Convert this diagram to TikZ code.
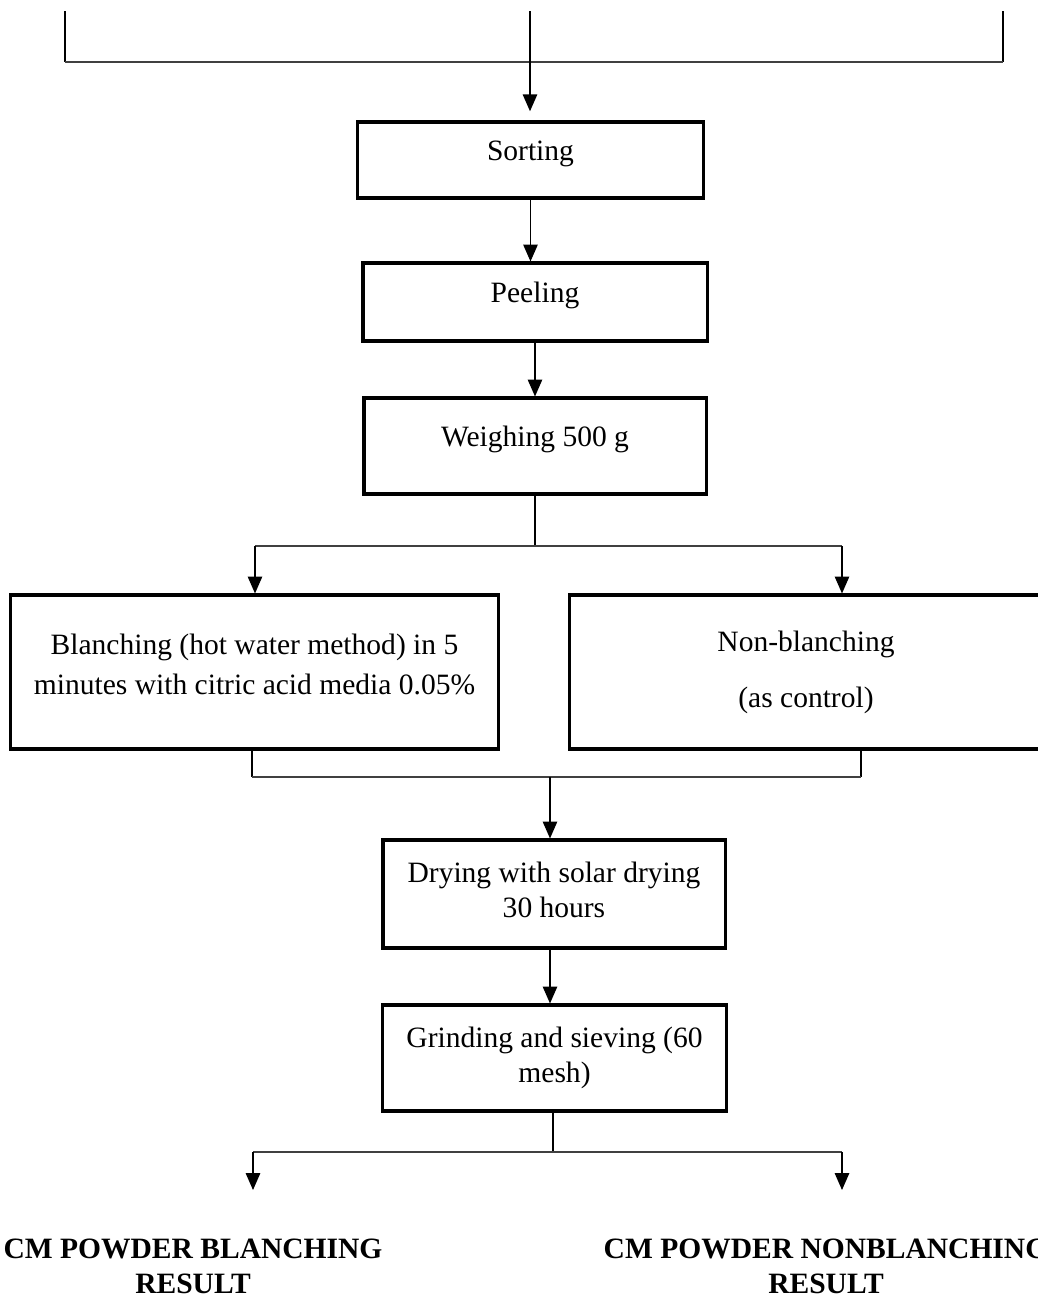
\documentclass[tikz,border=0pt]{standalone}
\usepackage{fontspec}
\setmainfont{Liberation Serif}
\usetikzlibrary{arrows.meta,positioning,calc}

\begin{document}
\begin{tikzpicture}[x=0.025cm, y=-0.025cm,
  every node/.style={font=\fontsize{21}{25}\selectfont, align=center},
  proc/.style={draw=black, line width=2.2pt, inner sep=0pt},
  oneline/.style={text height=0.7em, text depth=0.6em},
  link/.style={line width=0.9pt},
  bus/.style={line width=1.3pt, draw=black!75},
  arr/.style={line width=0.9pt, -{Triangle[length=0.42cm,width=0.36cm]}}]

\useasboundingbox (0,0) rectangle (1038,1298);
\clip (0,0) rectangle (1038,1298);

% Kroki procesu
\node[proc, oneline, minimum width=8.63cm, minimum height=1.9cm] (sort) at (530.5,160) {Sorting};
\node[proc, oneline, minimum width=8.6cm, minimum height=1.95cm] (peel) at (535,302) {Peeling};
\node[proc, oneline, minimum width=8.55cm, minimum height=2.4cm] (weigh) at (535,446) {Weighing 500 g};
\node[proc, text depth=1.1em, minimum width=12.18cm, minimum height=3.85cm] (blanch) at (254.5,672)
  {Blanching (hot water method) in 5\\[3pt]minutes with citric acid media 0.05\%};
\node[proc, minimum width=11.8cm, minimum height=3.85cm] (nonbl) at (806,672)
  {Non-blanching\\[0.7em](as control)};
\node[proc, text depth=0.62em, minimum width=8.55cm, minimum height=2.7cm] (dry) at (554,894)
  {Drying with solar drying\\30 hours};
\node[proc, minimum width=8.58cm, minimum height=2.65cm] (grind) at (554.5,1058)
  {Grinding and sieving (60\\mesh)};

% Wyniki
\node[font=\bfseries\fontsize{21}{25}\selectfont] (resB) at (193,1266) {CM POWDER BLANCHING\\RESULT};
\node[font=\bfseries\fontsize{21}{25}\selectfont] (resN) at (826,1266) {CM POWDER NONBLANCHING\\RESULT};

% Linia zbiorcza u góry
\foreach \x in {65,530,1003} {
  \coordinate (top\x) at (\x,11);
}
\coordinate (inL) at (65,62);
\coordinate (inR) at (1003,62);
\draw[link] (top65) -- (inL);
\draw[link] (top1003) -- (inR);
\draw[bus] (inL) -- (inR);
\draw[arr, shorten >=0.23cm] (top530) -- (top530 |- sort.north);

% Ścieżka główna
\draw[arr] (sort.south) -- (sort.south |- peel.north);
\draw[arr] (peel.south) -- (weigh.north);

% Rozgałęzienie po ważeniu
\coordinate (spW) at (535,546);
\coordinate (spWL) at (255,546);
\coordinate (spWR) at (842,546);
\draw[link] (weigh.south) -- (spW);
\draw[bus] (spWL) -- (spWR);
\draw[arr] (spWL) -- (spWL |- blanch.north);
\draw[arr] (spWR) -- (spWR |- nonbl.north);

% Połączenie przed suszeniem
\coordinate (mgL) at (252,777);
\coordinate (mgR) at (861,777);
\coordinate (mg) at (550,777);
\draw[link] (mgL |- blanch.south) -- (mgL);
\draw[link] (mgR |- nonbl.south) -- (mgR);
\draw[bus] (mgL) -- (mgR);
\draw[arr] (mg) -- (mg |- dry.north);
\draw[arr] (mg |- dry.south) -- (mg |- grind.north);

% Rozgałęzienie na wyniki
\coordinate (spG) at (553,1152);
\coordinate (spGL) at (253,1152);
\coordinate (spGR) at (842,1152);
\coordinate (endB) at (253,1190);
\coordinate (endN) at (842,1190);
\draw[link] (spG |- grind.south) -- (spG);
\draw[bus] (spGL) -- (spGR);
\draw[arr] (spGL) -- (endB);
\draw[arr] (spGR) -- (endN);

\end{tikzpicture}
\end{document}
